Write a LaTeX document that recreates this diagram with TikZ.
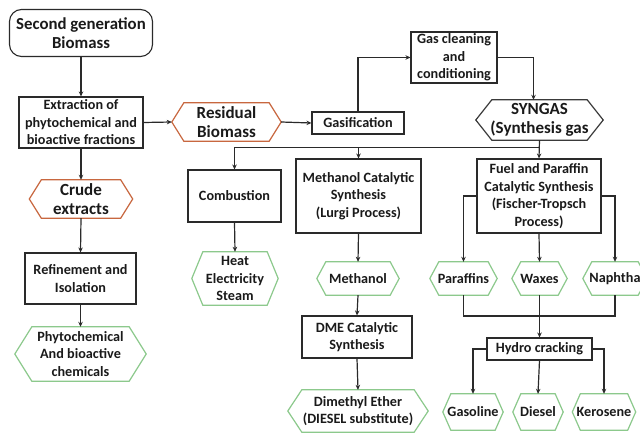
\documentclass[tikz,border=0pt]{standalone}
\usepackage{fontspec}
\setmainfont{Carlito}
\usetikzlibrary{arrows.meta,calc}
\definecolor{hexred}{HTML}{C8673F}
\definecolor{hexgreen}{HTML}{8CC98C}
\definecolor{hexgray}{HTML}{3A3A3A}
\definecolor{linec}{HTML}{2A2A2A}
\definecolor{textc}{HTML}{1A1A1A}
\tikzset{
  fn/.style={font=\fontsize{14.2}{17.5}\selectfont\bfseries, text=textc},
  fb/.style={font=\fontsize{17}{19.5}\selectfont\bfseries, text=textc},
  fbb/.style={font=\fontsize{16.8}{18.5}\selectfont\bfseries, text=textc},
  boxn/.style={draw=linec, line width=1.1pt, fill=white, inner sep=0pt, align=center, fn},
  hexbase/.style={draw=none, inner sep=0pt, align=center},
  conn/.style={draw=linec, line width=1.2pt, -{Stealth[length=5pt,width=4.5pt]}},
  plainc/.style={draw=linec, line width=1.2pt}
}
% name, position, w, h, d, colour, font style, text
\newcommand{\hexnode}[8]{%
  \node[hexbase,#7,minimum width=#3,minimum height=#4] (#1) at #2 {#8};
  \draw[line width=1.2pt,draw=#6,line join=miter] (#1.west) -- ([xshift=#5]#1.north west) -- ([xshift=-#5]#1.north east) -- (#1.east) -- ([xshift=-#5]#1.south east) -- ([xshift=#5]#1.south west) -- cycle;
}
\begin{document}
\begin{tikzpicture}[x=1pt,y=-1pt]
\useasboundingbox (0,0) rectangle (640,433);
\fill[white] (0,0) rectangle (640,433);

% left column
\node[boxn, fbb, rounded corners=12pt, minimum width=143, minimum height=47] (bio) at (81,33) {Second generation\\Biomass};
\node[boxn, minimum width=124, minimum height=51] (ext) at (81,122.5) {Extraction of\\phytochemical and\\bioactive fractions};
\hexnode{crude}{(81,199)}{103}{38}{12}{hexred}{fb}{Crude\\extracts}
\node[boxn, minimum width=111, minimum height=51] (ref) at (80.5,278.5) {Refinement and\\Isolation};
\hexnode{phyto}{(80.5,354)}{131}{54}{17}{hexgreen}{fn}{Phytochemical\\And bioactive\\chemicals}

% residual and gasification
\hexnode{res}{(226.5,122)}{109}{38}{12}{hexred}{fb}{Residual\\Biomass}
\node[boxn, minimum width=92, minimum height=22] (gas) at (358,123) {Gasification};
\node[boxn, minimum width=86, minimum height=51] (clean) at (454,57.5) {Gas cleaning\\and\\conditioning};
\hexnode{syn}{(539.5,120)}{127}{40}{16}{hexgray}{fb}{SYNGAS\\(Synthesis gas}

% middle row
\node[boxn, minimum width=93, minimum height=52] (comb) at (234.5,196) {Combustion};
\node[boxn, minimum width=125, minimum height=74] (meth) at (358.5,196) {Methanol Catalytic\\Synthesis\\(Lurgi Process)};
\node[boxn, minimum width=124, minimum height=74] (ft) at (539,196) {Fuel and Paraffin\\Catalytic Synthesis\\(Fischer-Tropsch\\Process)};

\hexnode{heat}{(235,278.5)}{86}{53}{11}{hexgreen}{fn}{Heat\\Electricity\\Steam}
\hexnode{methanol}{(358,278.5)}{82}{33}{9}{hexgreen}{fn}{Methanol}
\node[boxn, minimum width=110, minimum height=42] (dme) at (357,337) {DME Catalytic\\Synthesis};
\hexnode{dimethyl}{(358,411)}{140}{42}{14}{hexgreen}{fn}{Dimethyl Ether\\(DIESEL substitute)}

\hexnode{par}{(463.5,278.5)}{67}{33}{9}{hexgreen}{fn}{Paraffins}
\hexnode{wax}{(539.5,278.5)}{55}{33}{9}{hexgreen}{fn}{Waxes}
\hexnode{nap}{(615,278.5)}{64}{33}{9}{hexgreen}{fn}{Naphtha}
\node[boxn, minimum width=105, minimum height=22] (hydro) at (539.5,349) {Hydro cracking};
\hexnode{gasol}{(473,412)}{60}{36}{8}{hexgreen}{fn}{Gasoline}
\hexnode{diesel}{(538,412)}{50}{36}{8}{hexgreen}{fn}{Diesel}
\hexnode{kero}{(604,412)}{63}{36}{8}{hexgreen}{fn}{Kerosene}

% connectors
\draw[conn] (bio.south) -- (ext.north);
\draw[conn] (ext.east) -- (res.west);
\draw[conn] (ext.south) -- (crude.north);
\draw[conn] (crude.south) -- (ref.north);
\draw[conn] (ref.south) -- (phyto.north);
\draw[conn] (res.east) -- (gas.west);
\draw[conn] (gas.north) |- (clean.west);
\draw[conn] (clean.east) -| ([xshift=-6pt]syn.north);
\coordinate (j) at (539.5,147.5);
\draw[conn] (syn.south) -- (ft.north);
\draw[conn] (j) -| (comb.north);
\draw[conn] (meth.north |- j) -- (meth.north);
\draw[conn] (comb.south) -- (heat.north);
\draw[conn] (meth.south) -- (methanol.north);
\draw[conn] (methanol.south) -- (dme.north);
\draw[conn] (dme.south) -- (dimethyl.north);
\draw[conn] (ft.west) -| (par.north);
\draw[conn] (ft.east) -| (nap.north);
\draw[conn] (ft.south) -- (wax.north);
\coordinate (k) at (539.5,316);
\draw[plainc] (par.south) |- (nap.south |- k) -- (nap.south);
\draw[conn] (wax.south) -- (hydro.north);
\draw[conn] (hydro.west) -| (gasol.north);
\draw[conn] (hydro.south) -- (diesel.north);
\draw[conn] (hydro.east) -| (kero.north);
\end{tikzpicture}
\end{document}
